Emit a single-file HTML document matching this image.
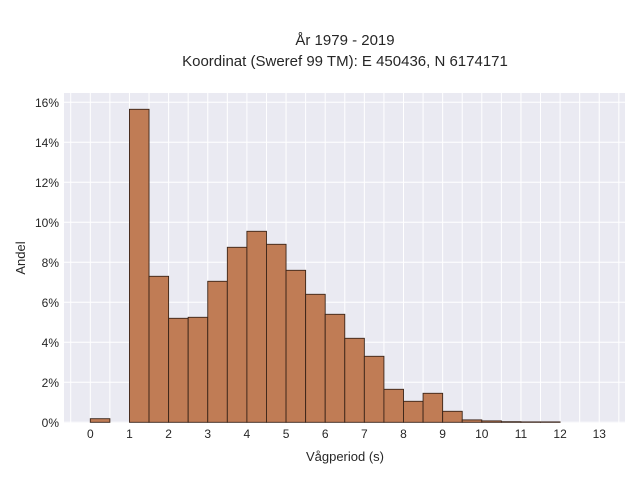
<!DOCTYPE html>
<html><head><meta charset="utf-8"><style>
body{margin:0;background:#fff;}
svg{display:block;font-family:"Liberation Sans",sans-serif;}
</style></head><body>
<svg id="chart" width="640" height="480">
<text x="345" y="45" text-anchor="middle" font-size="15" fill="#262626">År 1979 - 2019</text>
<text x="345" y="66" text-anchor="middle" font-size="15" fill="#262626">Koordinat (Sweref 99 TM): E 450436, N 6174171</text>
<rect x="64" y="93" width="561" height="330" fill="#eaeaf2"/>
<g id="grid"></g><g id="bars"></g><g id="ticks"></g>
<text x="345" y="461" text-anchor="middle" font-size="13" fill="#262626">Vågperiod (s)</text>
<text transform="translate(25,258) rotate(-90)" text-anchor="middle" font-size="13" fill="#262626">Andel</text>
</svg>
<script>
const binStarts=[0,1,1.5,2,2.5,3,3.5,4,4.5,5,5.5,6,6.5,7,7.5,8,8.5,9,9.5,10,10.5,11,11.5];
const shares=[0.18,15.65,7.3,5.2,5.25,7.05,8.75,9.55,8.9,7.6,6.4,5.4,4.2,3.3,1.65,1.05,1.45,0.55,0.12,0.07,0.03,0.02,0.02];
const xTicks=[0,1,2,3,4,5,6,7,8,9,10,11,12,13];
const yTicks=[0,2,4,6,8,10,12,14,16];
const binWidth=0.5;
const ns="http://www.w3.org/2000/svg";
const X=v=>90.3+v*39.15, Y=v=>422.3-v*20.0;
const grid=document.getElementById('grid'),bars=document.getElementById('bars'),ticks=document.getElementById('ticks');
function mk(tag,attrs,parent){const e=document.createElementNS(ns,tag);for(const k in attrs)e.setAttribute(k,attrs[k]);parent.appendChild(e);return e;}
for(let v=-0.5;v<=13.5;v+=0.5){const l=mk('line',{x1:X(v),x2:X(v),y1:93,y2:423,stroke:'#fff','stroke-width':1},grid);

}
yTicks.forEach(t=>{const l=mk('line',{x1:64,x2:625,y1:Y(t),y2:Y(t),stroke:'#fff','stroke-width':1},grid);


const tx=mk('text',{x:59,y:Y(t)+4.5,'text-anchor':'end','font-size':12,fill:'#262626'},ticks);tx.textContent=t+'%';

});
xTicks.forEach(t=>{const tx=mk('text',{x:X(t),y:438,'text-anchor':'middle','font-size':12,fill:'#262626'},ticks);tx.textContent=t;

});
binStarts.forEach((s,i)=>{const y=Y(shares[i]);const r=mk('rect',{x:X(s),y:y,width:X(s+binWidth)-X(s),height:Y(0)-y,fill:'#c07c55','stroke':'#3a2418','stroke-width':0.9},bars);

});
</script>
</body></html>
